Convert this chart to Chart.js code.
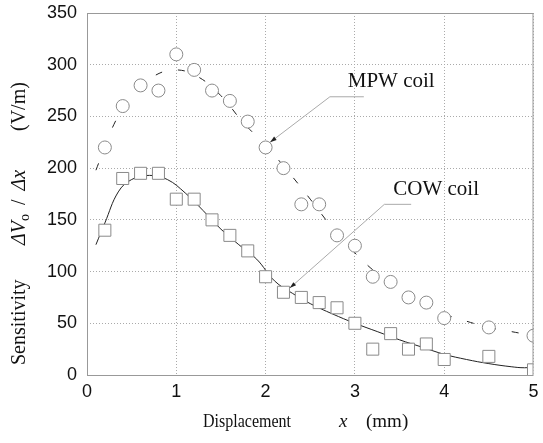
<!DOCTYPE html>
<html>
<head>
<meta charset="utf-8">
<script src="https://cdn.jsdelivr.net/npm/chart.js@4"></script>
<style>
    html, body { margin: 0; padding: 0; background: #fff; }
    #wrap { width: 543px; height: 443px; }
</style>
</head>
<body>
<div id="wrap"><canvas id="chart" width="543" height="443"></canvas></div>
<script>
// measured points
const xPoints = [0.2, 0.4, 0.6, 0.8, 1.0, 1.2, 1.4, 1.6, 1.8, 2.0, 2.2, 2.4, 2.6, 2.8, 3.0, 3.2, 3.4, 3.6, 3.8, 4.0, 4.5, 5.0];
const mpwValues = [220, 260, 280, 275, 310, 295, 275, 265, 245, 220, 200, 165, 165, 135, 125, 95, 90, 75, 70, 55, 46, 38];
const cowValues = [140, 190, 195, 195, 170, 170, 150, 135, 120, 95, 80, 75, 70, 65, 50, 25, 40, 25, 30, 15, 18, 5];

// fitted curves
const mpwFitX = [0.1, 0.3, 0.5, 0.75, 1.0, 1.25, 1.5, 1.75, 2.0, 2.25, 2.5, 2.75, 3.0, 3.25, 3.5, 3.75, 4.0, 4.25, 4.5, 4.75, 5.0];
const mpwFitY = [198, 242, 270, 289, 295, 288, 270, 244, 222, 197, 170, 142, 118, 98, 82, 69, 59, 52, 46, 42, 38];
const cowFitX = [0.1, 0.2, 0.35, 0.5, 0.7, 0.9, 1.1, 1.3, 1.5, 1.7, 1.9, 2.1, 2.3, 2.5, 2.75, 3.0, 3.25, 3.5, 3.75, 4.0, 4.25, 4.5, 4.75, 4.9, 5.0];
const cowFitY = [126, 147, 177, 189, 193, 189, 176, 159, 141, 126, 112, 91, 79, 69, 59, 50, 42, 34, 27, 20, 15, 11, 8, 7, 8];

const xTicks = [0, 1, 2, 3, 4, 5];
const yTicks = [0, 50, 100, 150, 200, 250, 300, 350];

const toXY = (xs, ys) => xs.map((x, i) => ({ x: x, y: ys[i] }));

const serif = '"Liberation Serif", "Times New Roman", serif';
const sans = '"Liberation Sans", Arial, sans-serif';

// frame, axis titles and the two callouts
const decorations = {
    id: "decorations",
    afterDatasetsDraw(chart) {
        const ctx = chart.ctx;
        const area = chart.chartArea;
        const xs = chart.scales.x;
        const ys = chart.scales.y;
        const px = (v) => xs.getPixelForValue(v);
        const py = (v) => ys.getPixelForValue(v);

        ctx.save();
        ctx.strokeStyle = "#999";
        ctx.lineWidth = 1;
        ctx.strokeRect(area.left + 0.5, area.top + 0.5, area.right - area.left - 1, area.bottom - area.top);

        // callouts
        drawCallout(ctx, "MPW coil", px(2.92), py(278), [px(2.72), py(269)], [px(3.1), py(269)], [px(2.05), py(225)]);
        drawCallout(ctx, "COW coil", px(3.43), py(174), [px(3.33), py(165)], [px(3.63), py(165)], [px(2.27), py(84)]);

        // x title
        ctx.fillStyle = "#111";
        ctx.textBaseline = "alphabetic";
        const yb = 427;
        drawFit(ctx, "Displacement", 203, yb, "19px " + serif, 88);
        drawPiece(ctx, "x", 339, yb, "italic 19px " + serif);
        drawPiece(ctx, "(mm)", 366, yb, "19px " + serif);

        // y title, rotated
        ctx.translate(25, 0);
        ctx.rotate(-Math.PI / 2);
        let t = -365;
        drawPiece(ctx, "Sensitivity", t, 0, "20px " + serif);
        t = -245;
        t = drawPiece(ctx, "\u0394V", t, 0, "italic 20px " + serif);
        t = drawPiece(ctx, "o", t, 4, "14px " + serif);
        t += 9;
        t = drawPiece(ctx, "/", t, 0, "20px " + serif);
        t += 9;
        drawPiece(ctx, "\u0394x", t, 0, "italic 20px " + serif);
        drawPiece(ctx, "(V/m)", -131, 0, "20px " + serif);
        ctx.restore();
    },
};

function drawPiece(ctx, text, x, y, font) {
    ctx.font = font;
    ctx.fillText(text, x, y);
    return x + ctx.measureText(text).width;
}

// squeeze a word to a given width
function drawFit(ctx, text, x, y, font, width) {
    ctx.font = font;
    const w = ctx.measureText(text).width;
    ctx.save();
    ctx.translate(x, y);
    ctx.scale(width / w, 1);
    ctx.fillText(text, 0, 0);
    ctx.restore();
}

function drawCallout(ctx, label, tx, ty, start, end, tip) {
    ctx.fillStyle = "#111";
    ctx.font = "21px " + serif;
    ctx.textBaseline = "alphabetic";
    ctx.fillText(label, tx, ty);

    ctx.strokeStyle = "#aaa";
    ctx.lineWidth = 1;
    ctx.beginPath();
    ctx.moveTo(end[0], end[1]);
    ctx.lineTo(start[0], start[1]);
    ctx.lineTo(tip[0], tip[1]);
    ctx.stroke();

    // arrow head
    const ang = Math.atan2(tip[1] - start[1], tip[0] - start[0]);
    const len = 7;
    ctx.fillStyle = "#222";
    ctx.beginPath();
    ctx.moveTo(tip[0], tip[1]);
    ctx.lineTo(tip[0] - len * Math.cos(ang - 0.3), tip[1] - len * Math.sin(ang - 0.3));
    ctx.lineTo(tip[0] - len * Math.cos(ang + 0.3), tip[1] - len * Math.sin(ang + 0.3));
    ctx.closePath();
    ctx.fill();
}

new Chart(document.getElementById("chart"), {
    type: "scatter",
    data: {
        datasets: [
            {
                label: "MPW coil",
                data: toXY(xPoints, mpwValues),
                pointStyle: "circle",
                pointRadius: 6.5,
                pointBorderColor: "#8a8a8a",
                pointBackgroundColor: "#fff",
                pointBorderWidth: 1,
                order: 0,
            },
            {
                label: "COW coil",
                data: toXY(xPoints, cowValues),
                pointStyle: "rect",
                pointRadius: 8.5,
                pointBorderColor: "#8a8a8a",
                pointBackgroundColor: "#fff",
                pointBorderWidth: 1,
                order: 0,
            },
            {
                label: "MPW fit",
                data: toXY(mpwFitX, mpwFitY),
                showLine: true,
                borderColor: "#222",
                borderWidth: 1,
                borderDash: [7, 16],
                pointRadius: 0,
                tension: 0.4,
                order: 1,
            },
            {
                label: "COW fit",
                data: toXY(cowFitX, cowFitY),
                showLine: true,
                borderColor: "#222",
                borderWidth: 1,
                pointRadius: 0,
                tension: 0.4,
                order: 1,
            },
        ],
    },
    options: {
        responsive: false,
        animation: false,
        layout: { padding: { top: 13, right: 3, left: 0, bottom: 0 } },
        plugins: {
            legend: { display: false },
            tooltip: { enabled: false },
        },
        scales: {
            x: {
                type: "linear",
                min: 0,
                max: 5,
                afterFit: (scale) => {
                    scale.height = 68;
                    scale.paddingLeft = 0;
                    scale.paddingRight = 0;
                },
                afterBuildTicks: (scale) => { scale.ticks = xTicks.map((v) => ({ value: v })); },
                grid: { color: "#aaa", lineWidth: 1, drawTicks: false },
                border: { display: false, dash: [1, 2] },
                ticks: { color: "#111", font: { family: sans, size: 18 }, padding: 6, maxRotation: 0 },
            },
            y: {
                type: "linear",
                min: 0,
                max: 350,
                afterFit: (scale) => {
                    scale.width = 87;
                    scale.paddingTop = 0;
                    scale.paddingBottom = 0;
                },
                afterBuildTicks: (scale) => { scale.ticks = yTicks.map((v) => ({ value: v })); },
                grid: { color: "#aaa", lineWidth: 1, drawTicks: false },
                border: { display: false, dash: [1, 2] },
                ticks: { color: "#111", font: { family: sans, size: 18 }, padding: 10 },
            },
        },
    },
    plugins: [decorations],
});
</script>
</body>
</html>
